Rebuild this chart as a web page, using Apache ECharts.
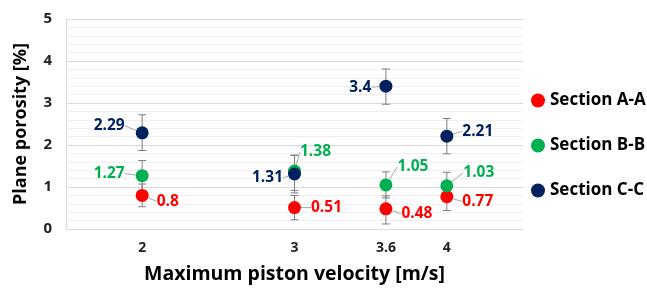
<!DOCTYPE html>
<html><head><meta charset="utf-8">
<script src="https://cdn.jsdelivr.net/npm/echarts@6/dist/echarts.min.js"></script>
<style>html,body{margin:0;padding:0;background:#fff}#c{width:647px;height:289px}</style>
</head><body><div id="c"></div>
<script>
const velocities = [2, 3, 3.6, 4];
const xTickLabels = [2, 3, 3.6, 4];
const seriesNames = ['Section A-A', 'Section B-B', 'Section C-C'];
const porosityA = [0.8, 0.51, 0.48, 0.77];
const porosityB = [1.27, 1.38, 1.05, 1.03];
const porosityC = [2.29, 1.31, 3.4, 2.21];
const errLowA = [0.53, 0.22, 0.12, 0.44];
const errHighA = [1.07, 0.80, 0.79, 1.10];
const errLowB = [0.91, 0.92, 0.74, 0.71];
const errHighB = [1.63, 1.75, 1.36, 1.35];
const errLowC = [1.87, 0.86, 2.97, 1.79];
const errHighC = [2.72, 1.76, 3.81, 2.63];

const colors = ['#ff0000', '#00b050', '#002060'];
const labelPos = [['right','right','right','right'], ['left','right','right','right'], ['left','left','left','right']];
const labelShift = [
  [[3,6],[5,0],[4,5],[4,5]],
  [[-6,-2],[-6,-19],[0,-18],[5,-13]],
  [[-6,-7],[0,4],[-3,1],[4,-5]]
];
const vals = [porosityA, porosityB, porosityC];
const lows = [errLowA, errLowB, errLowC];
const highs = [errHighA, errHighB, errHighC];

const series = [];
vals.forEach((v, s) => {
  series.push({
    type: 'custom', silent: true, z: 1,
    data: velocities.map((x, i) => [x, lows[s][i], highs[s][i]]),
    renderItem: (params, api) => {
      const lo = api.coord([api.value(0), api.value(1)]);
      const hi = api.coord([api.value(0), api.value(2)]);
      const w = 4;
      const st = { stroke: '#7f7f7f', lineWidth: 1 };
      return { type: 'group', children: [
        { type: 'line', shape: { x1: lo[0], y1: lo[1], x2: hi[0], y2: hi[1] }, style: st },
        { type: 'line', shape: { x1: lo[0]-w, y1: lo[1], x2: lo[0]+w, y2: lo[1] }, style: st },
        { type: 'line', shape: { x1: hi[0]-w, y1: hi[1], x2: hi[0]+w, y2: hi[1] }, style: st }
      ]};
    }
  });
});
vals.forEach((v, s) => {
  series.push({
    name: seriesNames[s], type: 'scatter', z: 5,
    symbolSize: 13,
    itemStyle: { color: colors[s], opacity: 1 },
    data: velocities.map((x, i) => ({
      value: [x, v[i]],
      label: { position: labelPos[s][i] }
    })),
    label: { show: true, distance: 5, color: colors[s], fontFamily: 'Open Sans', fontWeight: 'bold', fontSize: 15.5,
      formatter: p => String(p.value[1]) },
    labelLine: { show: true, lineStyle: { color: '#a6a6a6', width: 1 } },
    labelLayout: p => ({ dx: labelShift[s][p.dataIndex][0], dy: labelShift[s][p.dataIndex][1] })
  });
});

const chart = echarts.init(document.getElementById('c'));
chart.setOption({
  animation: false,
  textStyle: { fontFamily: 'Open Sans' },
  grid: { left: 66, right: 124, top: 19, bottom: 58 },
  legend: {
    orient: 'vertical', left: 526, top: 87, itemGap: 28,
    icon: 'circle', itemWidth: 14, itemHeight: 14,
    textStyle: { fontFamily: 'Open Sans', fontWeight: 'bold', fontSize: 17, color: '#000' },
    data: seriesNames
  },
  xAxis: {
    type: 'value', min: 1.5, max: 4.5,
    name: 'Maximum piston velocity [m/s]', nameLocation: 'middle', nameGap: 35,
    nameTextStyle: { fontFamily: 'Open Sans', fontWeight: 'bold', fontSize: 19.5, color: '#000' },
    axisLine: { show: false }, axisTick: { show: false }, splitLine: { show: false },
    axisLabel: { customValues: xTickLabels, fontWeight: 'bold', fontSize: 14, color: '#222', margin: 12 }
  },
  yAxis: {
    type: 'value', min: 0, max: 5, interval: 1,
    name: 'Plane porosity [%]', nameLocation: 'middle', nameGap: 36,
    nameTextStyle: { fontFamily: 'Open Sans', fontWeight: 'bold', fontSize: 18, color: '#000' },
    axisLine: { show: true, lineStyle: { color: '#d9d9d9' } },
    axisTick: { show: false },
    axisLabel: { fontWeight: 'bold', fontSize: 15, color: '#222', margin: 14 },
    splitLine: { show: true, lineStyle: { color: '#d9d9d9' } },
    minorTick: { show: false, splitNumber: 5 },
    minorSplitLine: { show: true, lineStyle: { color: '#f0f0f0' } }
  },
  series: series
});
</script></body></html>
